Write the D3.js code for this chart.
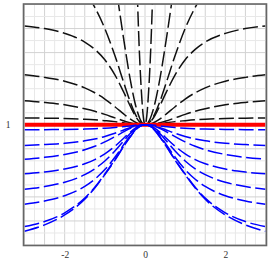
<!DOCTYPE html>
<html>
<head>
<meta charset="utf-8">
<script src="https://cdn.jsdelivr.net/npm/d3@7"></script>
<style>
  body { margin: 0; background: #fff; }
  svg { display: block; }
  .tick text { font-family: "Liberation Serif", "DejaVu Serif", serif; font-size: 9.5px; fill: #333; }
</style>
</head>
<body>
<svg id="chart" width="273" height="273"></svg>
<script>
// sample positions along x (shared by every curve)
var xs = [-3,-2.5,-2,-1.5,-1.25,-1,-0.75,-0.5,-0.375,-0.25,-0.125,0,0.125,0.25,0.375,0.5,0.75,1,1.25,1.5,2,2.5,3];

// black family (rising away from 0)
var black1 = [1.057,1.055,1.052,1.046,1.041,1.034,1.026,1.015,1.009,1.004,1.001,1,1.001,1.004,1.009,1.015,1.026,1.034,1.041,1.046,1.052,1.055,1.057];
var black2 = [1.2,1.186,1.166,1.133,1.112,1.086,1.057,1.029,1.017,1.008,1.002,1,1.002,1.008,1.017,1.029,1.057,1.086,1.112,1.133,1.166,1.186,1.2];
var black3 = [1.415,1.394,1.362,1.307,1.266,1.214,1.15,1.081,1.049,1.023,1.006,1,1.006,1.023,1.049,1.081,1.15,1.214,1.266,1.307,1.362,1.394,1.415];
var black4 = [1.822,1.8,1.76,1.688,1.627,1.54,1.415,1.25,1.161,1.079,1.021,1,1.021,1.079,1.161,1.25,1.415,1.54,1.627,1.688,1.76,1.8,1.822];
var black5 = [2.44,2.38,2.28,2.108,1.976,1.8,1.576,1.32,1.197,1.094,1.025,1,1.025,1.094,1.197,1.32,1.576,1.8,1.976,2.108,2.28,2.38,2.44];
var black6 = [4.5,4.31,4.02,3.54,3.18,2.74,2.208,1.645,1.39,1.183,1.048,1,1.048,1.183,1.39,1.645,2.208,2.74,3.18,3.54,4.02,4.31,4.5];
var black7 = [10.68,10.54,10.3,9.82,9.39,8.69,7.52,5.55,4.19,2.72,1.495,1,1.495,2.72,4.19,5.55,7.52,8.69,9.39,9.82,10.3,10.54,10.68];

// the flat one
var red = [1,1,1,1,1,1,1,1,1,1,1,1,1,1,1,1,1,1,1,1,1,1,1];

// blue family (falling away from 0)
var blue1 = [0.958,0.959,0.961,0.964,0.967,0.971,0.977,0.985,0.99,0.995,0.999,1,0.999,0.995,0.99,0.985,0.977,0.971,0.967,0.964,0.961,0.959,0.958];
var blue2 = [0.828,0.835,0.846,0.866,0.881,0.902,0.929,0.96,0.975,0.988,0.997,1,0.997,0.988,0.975,0.96,0.929,0.902,0.881,0.866,0.846,0.835,0.828];
var blue3 = [0.714,0.729,0.753,0.792,0.821,0.857,0.901,0.947,0.968,0.985,0.996,1,0.996,0.985,0.968,0.947,0.901,0.857,0.821,0.792,0.753,0.729,0.714];
var blue4 = [0.592,0.607,0.632,0.676,0.71,0.758,0.821,0.898,0.936,0.969,0.992,1,0.992,0.969,0.936,0.898,0.821,0.758,0.71,0.676,0.632,0.607,0.592];
var blue5 = [0.464,0.486,0.522,0.585,0.634,0.699,0.782,0.878,0.925,0.964,0.991,1,0.991,0.964,0.925,0.878,0.782,0.699,0.634,0.585,0.522,0.486,0.464];
var blue6 = [0.339,0.366,0.41,0.487,0.547,0.627,0.73,0.849,0.907,0.955,0.988,1,0.988,0.955,0.907,0.849,0.73,0.627,0.547,0.487,0.41,0.366,0.339];
var blue7 = [0.153,0.195,0.268,0.39,0.48,0.59,0.71,0.838,0.898,0.952,0.988,1,0.988,0.952,0.898,0.838,0.71,0.59,0.48,0.39,0.268,0.195,0.153];
var blue8 = [0.114,0.167,0.25,0.38,0.474,0.585,0.705,0.835,0.895,0.95,0.987,1,0.987,0.95,0.895,0.835,0.705,0.585,0.474,0.38,0.25,0.167,0.114];

var xTicks = [-2, 0, 2];
var yTicks = [1];

var svg = d3.select("#chart");

var x = d3.scaleLinear().domain([-3, 3]).range([24.5, 265.5]);
var y = d3.scaleLinear().domain([0, 2]).range([245, 4.5]);

// grid
var grid = svg.append("g");
grid.selectAll(".vminor").data(d3.range(-12, 13).map(function(i) { return i * 0.25; }))
  .enter().append("line")
    .attr("x1", function(d) { return x(d); }).attr("x2", function(d) { return x(d); })
    .attr("y1", y(0)).attr("y2", y(2))
    .attr("stroke", function(d, i) { return i % 2 == 0 ? "#d2d2d2" : "#e8e8e8"; })
    .attr("stroke-width", 1);
grid.selectAll(".hminor").data(d3.range(0, 21).map(function(i) { return i * 0.1; }))
  .enter().append("line")
    .attr("y1", function(d) { return y(d); }).attr("y2", function(d) { return y(d); })
    .attr("x1", x(-3)).attr("x2", x(3))
    .attr("stroke", function(d, i) { return i % 2 == 0 ? "#d2d2d2" : "#e8e8e8"; })
    .attr("stroke-width", 1);

svg.append("clipPath").attr("id", "clip")
  .append("rect")
    .attr("x", x(-3)).attr("y", y(2))
    .attr("width", x(3) - x(-3)).attr("height", y(0) - y(2));

var line = d3.line()
  .x(function(d, i) { return x(xs[i]); })
  .y(function(d) { return y(d); })
  .curve(d3.curveMonotoneX);

var plot = svg.append("g").attr("clip-path", "url(#clip)");

var blacks = [black1, black2, black3, black4, black5, black6, black7];
var blues = [blue1, blue2, blue3, blue4, blue5, blue6, blue7, blue8];

plot.selectAll(".black").data(blacks)
  .enter().append("path")
    .attr("d", line)
    .attr("fill", "none")
    .attr("stroke", "#111")
    .attr("stroke-width", 1.5)
    .attr("stroke-dasharray", "15,4.5");

plot.append("path")
  .attr("d", line(red))
  .attr("fill", "none")
  .attr("stroke", "#ff0000")
  .attr("stroke-width", 4);

plot.selectAll(".blue").data(blues)
  .enter().append("path")
    .attr("d", line)
    .attr("fill", "none")
    .attr("stroke", "#0000ff")
    .attr("stroke-width", 1.5)
    .attr("stroke-dasharray", "15,4.5");

// frame
svg.append("rect")
  .attr("x", x(-3) - 1).attr("y", y(2) - 0.5)
  .attr("width", x(3) - x(-3) + 2).attr("height", y(0) - y(2) + 1)
  .attr("fill", "none")
  .attr("stroke", "#666")
  .attr("stroke-width", 1.6);

// axes (labels only)
var xAxis = svg.append("g")
  .attr("transform", "translate(0," + y(0) + ")")
  .call(d3.axisBottom(x).tickValues(xTicks).tickSize(0).tickPadding(6)
    .tickFormat(function(d) { return d < 0 ? "-" + Math.abs(d) : d; }));
xAxis.select(".domain").remove();

var yAxis = svg.append("g")
  .attr("transform", "translate(" + x(-3) + ",0)")
  .call(d3.axisLeft(y).tickValues(yTicks).tickSize(0).tickPadding(14)
    .tickFormat(d3.format("d")));
yAxis.select(".domain").remove();
</script>
</body>
</html>
